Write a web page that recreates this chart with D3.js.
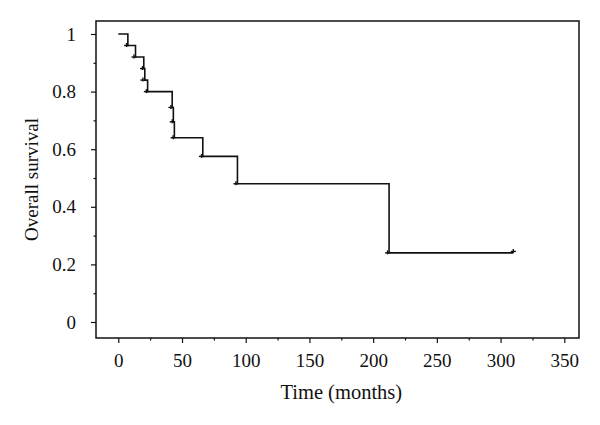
<!DOCTYPE html>
<html>
<head>
<meta charset="utf-8">
<script src="https://cdn.jsdelivr.net/npm/d3@7"></script>
<style>
  body { margin: 0; background: #fff; }
  text { font-family: "Liberation Serif", "Times New Roman", serif; fill: #111; }
</style>
</head>
<body>
<script>
// Kaplan-Meier steps
var eventTimes = [0, 7.5, 13.5, 20, 20.8, 23, 42.3, 43.2, 44, 66.3, 93.5, 212.5];
var survival   = [1, 0.96, 0.92, 0.88, 0.84, 0.80, 0.745, 0.695, 0.64, 0.575, 0.48, 0.24];
var lastTime = 310;
var censorTimes = [6.5, 12.3, 19, 19.3, 22, 41.3, 42.3, 43, 65.3, 92.3, 211.3, 310];
var censorSurv  = [0.96, 0.92, 0.88, 0.84, 0.80, 0.745, 0.695, 0.64, 0.575, 0.48, 0.24, 0.245];
var xTicks = [0, 50, 100, 150, 200, 250, 300, 350];
var yTicks = [0, 0.2, 0.4, 0.6, 0.8, 1];

var width = 600, height = 425;
var frame = {left: 96, top: 21, right: 579, bottom: 338};

var x = d3.scaleLinear().domain([0, 350]).range([118.3, 564.3]);
var y = d3.scaleLinear().domain([0, 1]).range([322, 34]);

var svg = d3.select("body").append("svg")
  .attr("width", width)
  .attr("height", height);

// frame box
svg.append("rect")
  .attr("x", frame.left)
  .attr("y", frame.top)
  .attr("width", frame.right - frame.left)
  .attr("height", frame.bottom - frame.top)
  .attr("fill", "none")
  .attr("stroke", "#111")
  .attr("stroke-width", 1.5);

// x axis ticks (major + minor)
svg.append("g")
  .attr("transform", "translate(0," + frame.bottom + ")")
  .call(d3.axisBottom(x).tickValues(xTicks).tickSize(5).tickPadding(11).tickFormat(d3.format("d")));
svg.append("g")
  .attr("transform", "translate(0," + frame.bottom + ")")
  .call(d3.axisBottom(x).tickValues(d3.range(25, 350, 50)).tickSize(2.5).tickFormat(""));

// y axis ticks (major + minor)
svg.append("g")
  .attr("transform", "translate(" + frame.left + ",0)")
  .call(d3.axisLeft(y).tickValues(yTicks).tickSize(5).tickPadding(15).tickFormat(function(d) { return d === 0 || d === 1 ? d : d3.format(".1f")(d); }));
svg.append("g")
  .attr("transform", "translate(" + frame.left + ",0)")
  .call(d3.axisLeft(y).tickValues([0.1, 0.3, 0.5, 0.7, 0.9]).tickSize(2.5).tickFormat(""));

svg.selectAll(".domain").remove();
svg.selectAll(".tick line").attr("stroke", "#111").attr("stroke-width", 1.2);
svg.selectAll(".tick text")
  .style("font-family", "'Liberation Serif', serif")
  .style("font-size", "19px")
  .attr("fill", "#111");

// axis titles
svg.append("text")
  .attr("x", (x(0) + x(350)) / 2)
  .attr("y", 399)
  .attr("text-anchor", "middle")
  .style("font-size", "20.5px")
  .text("Time (months)");

svg.append("text")
  .attr("transform", "translate(38," + ((frame.top + frame.bottom) / 2) + ") rotate(-90)")
  .attr("text-anchor", "middle")
  .style("font-size", "19px")
  .text("Overall survival");

// survival curve
var pts = eventTimes.map(function(t, i) { return [t, survival[i]]; });
pts.push([lastTime, survival[survival.length - 1]]);

var line = d3.line()
  .x(function(d) { return x(d[0]); })
  .y(function(d) { return y(d[1]); })
  .curve(d3.curveStepAfter);

svg.append("path")
  .attr("d", line(pts))
  .attr("fill", "none")
  .attr("stroke", "#111")
  .attr("stroke-width", 1.6);

// censor marks
var marks = svg.append("g");
censorTimes.forEach(function(t, i) {
  var cx = x(t), cy = y(censorSurv[i]);
  marks.append("line")
    .attr("x1", cx - 2.5).attr("x2", cx + 2.5)
    .attr("y1", cy).attr("y2", cy)
    .attr("stroke", "#111").attr("stroke-width", 1.4);
  marks.append("line")
    .attr("x1", cx).attr("x2", cx)
    .attr("y1", cy - 2.5).attr("y2", cy + 1.5)
    .attr("stroke", "#111").attr("stroke-width", 1.4);
});
</script>
</body>
</html>
